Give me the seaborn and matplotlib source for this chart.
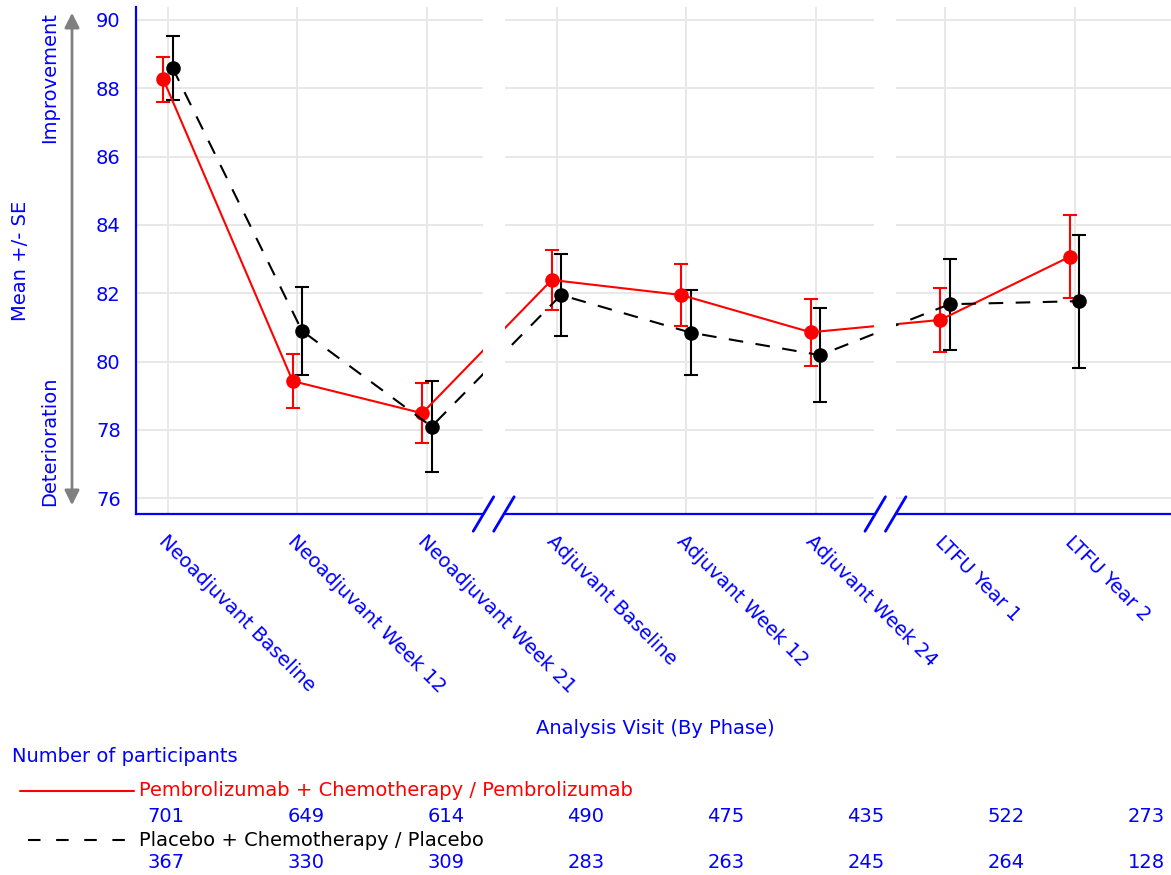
import pandas as pd
import matplotlib
matplotlib.use('Agg')
import matplotlib.pyplot as plt
import seaborn as sns
from matplotlib.lines import Line2D
from matplotlib.patches import Rectangle

# Datos
visitas = ['Neoadjuvant Baseline', 'Neoadjuvant Week 12', 'Neoadjuvant Week 21',
           'Adjuvant Baseline', 'Adjuvant Week 12', 'Adjuvant Week 24',
           'LTFU Year 1', 'LTFU Year 2']
grupos = ['Pembrolizumab + Chemotherapy / Pembrolizumab',
          'Placebo + Chemotherapy / Placebo']
media_pembro = [88.27, 79.43, 78.49, 82.39, 81.95, 80.86, 81.22, 83.07]
se_pembro = [0.66, 0.80, 0.87, 0.88, 0.90, 0.98, 0.93, 1.21]
media_placebo = [88.60, 80.90, 78.10, 81.95, 80.85, 80.19, 81.68, 81.77]
se_placebo = [0.94, 1.28, 1.34, 1.21, 1.25, 1.38, 1.33, 1.95]
n_pembro = [701, 649, 614, 490, 475, 435, 522, 273]
n_placebo = [367, 330, 309, 283, 263, 245, 264, 128]
cortes = [2.515, 5.54]   # posiciones de los cortes del eje x

AZUL = '#0000ff'
colores = {grupos[0]: '#ff0000', grupos[1]: '#000000'}
desplaz = {grupos[0]: -0.037, grupos[1]: 0.035}

filas = []
for g, medias, ses in [(grupos[0], media_pembro, se_pembro),
                       (grupos[1], media_placebo, se_placebo)]:
    for i, (m, s) in enumerate(zip(medias, ses)):
        filas.append({'grupo': g, 'x': i + desplaz[g], 'media': m, 'se': s})
df = pd.DataFrame(filas)

sns.set_theme(style='white')
plt.rcParams['font.family'] = ['DejaVu Sans']
plt.rcParams['font.size'] = 14

W, H = 1171, 875
fig = plt.figure(figsize=(W / 100, H / 100), dpi=100)
ax = fig.add_axes([136 / W, 1 - 514 / H, 1 - 136 / W, (514 - 7) / H])


def fx(px):
    return px / W


def fy(py):
    return 1 - py / H


ax.grid(True, color='#e8e8e8', lw=1.4, zorder=0)
ax.set_axisbelow(True)

sns.lineplot(data=df, x='x', y='media', hue='grupo', style='grupo',
             palette=colores, dashes={grupos[0]: '', grupos[1]: (7, 6)},
             markers={grupos[0]: 'o', grupos[1]: 'o'}, markersize=10.5,
             markeredgewidth=0, lw=1.5, estimator=None, sort=False,
             legend=False, ax=ax, zorder=3)

for g in grupos:
    sub = df[df['grupo'] == g]
    ax.errorbar(sub['x'], sub['media'], yerr=sub['se'], fmt='none',
                ecolor=colores[g], elinewidth=1.5, capsize=5, capthick=1.5,
                zorder=2.8)

# Cortes del eje: huecos blancos y barras dobles
for c in cortes:
    ax.add_patch(Rectangle((c - 0.085, -0.02), 0.17, 1.04,
                           transform=ax.get_xaxis_transform(),
                           facecolor='white', edgecolor='none',
                           zorder=5, clip_on=False))
    for s in (-0.079, 0.079):
        ax.plot([c + s - 0.079, c + s + 0.079], [-0.034, 0.034],
                transform=ax.get_xaxis_transform(), color=AZUL, lw=2,
                clip_on=False, zorder=6)

ax.set_xlim(-0.247, 7.745)
ax.set_ylim(75.54, 90.38)
ax.set_yticks(range(76, 91, 2))
ax.set_xticks(range(len(visitas)))
ax.set_xticklabels(visitas, rotation=-45, ha='left', va='top',
                   rotation_mode='anchor')
ax.set_xlabel('')
ax.set_ylabel('')
ax.tick_params(axis='both', direction='out', length=7, width=1.3,
               color=AZUL, labelcolor=AZUL, labelsize=14, pad=4)
ax.tick_params(axis='x', pad=6)
for lado in ['top', 'right']:
    ax.spines[lado].set_visible(False)
for lado in ['left', 'bottom']:
    ax.spines[lado].set_color(AZUL)
    ax.spines[lado].set_linewidth(1.6)

# Textos del eje y
fig.text(fx(21), fy(261), 'Mean +/- SE', rotation=90, ha='center',
         va='center', color=AZUL)
fig.text(fx(50), fy(12), 'Improvement', rotation=90, ha='center',
         va='top', color=AZUL)
fig.text(fx(50), fy(506), 'Deterioration', rotation=90, ha='center',
         va='bottom', color=AZUL)
ax.annotate('', xy=(72, H - 10), xytext=(72, H - 508),
            xycoords='figure pixels', textcoords='figure pixels',
            arrowprops=dict(arrowstyle='<|-|>', color='#808080', lw=2,
                            mutation_scale=22))

fig.text(fx(655), fy(728), 'Analysis Visit (By Phase)', ha='center',
         va='center', color=AZUL)

# Tabla de participantes
fig.text(fx(12), fy(756), 'Number of participants', ha='left',
         va='center', color=AZUL)
fig.add_artist(Line2D([fx(20), fx(134)], [fy(791), fy(791)],
                      color='#ff0000', lw=1.5))
fig.text(fx(139), fy(791), grupos[0], ha='left', va='center',
         color='#ff0000')
fig.add_artist(Line2D([fx(28), fx(135)], [fy(840), fy(840)],
                      color='#000000', lw=1.5, dashes=(6, 7.5)))
fig.text(fx(139), fy(840), grupos[1], ha='left', va='center',
         color='#000000')
for i, (a, b) in enumerate(zip(n_pembro, n_placebo)):
    fig.text(fx(166 + 140 * i), fy(817), str(a), ha='center', va='center',
             color=AZUL)
    fig.text(fx(166 + 140 * i), fy(862), str(b), ha='center', va='center',
             color=AZUL)

fig.savefig('out.png', dpi=100)
